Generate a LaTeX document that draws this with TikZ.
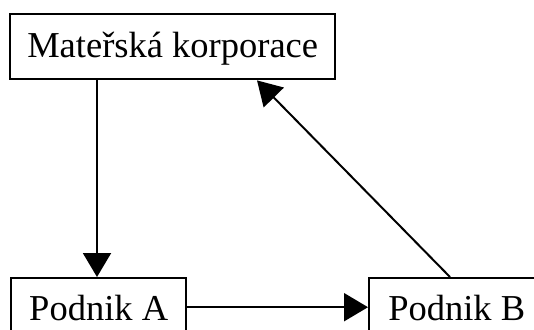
\documentclass[tikz,border=0pt]{standalone}
\usepackage{fontspec}
\setmainfont{Liberation Serif}
\usetikzlibrary{arrows.meta}
\begin{document}
\begin{tikzpicture}[x=1pt,y=-1pt,
  box/.style={draw,line width=2.4pt,anchor=north west,inner sep=0pt,
    font=\fontsize{36.5}{40}\selectfont,text height=26pt,text depth=0pt},
  arr/.style={line width=2pt,-{Triangle[length=24pt,width=28pt]}}]
\clip (0,0) rectangle (534,329);
\fill[white] (0,0) rectangle (534,329);
% parent company and its two subsidiaries
\node[box,minimum width=325pt,minimum height=65pt,text depth=5pt] (top) at (9,13) {Mateřská korporace};
\node[box,minimum width=175pt,minimum height=58pt] (A) at (10,277) {Podnik A};
\node[box,minimum width=175pt,minimum height=58pt] (B) at (368,277) {Podnik B};
% ownership flows
\draw[arr] ([xshift=88pt]top.south west) -- ([xshift=88pt]top.south west |- A.north);
\draw[arr] (A.east) -- (B.west);
\draw[arr] ([xshift=82pt]B.north west) -- ([xshift=248pt]top.south west);
\end{tikzpicture}
\end{document}
